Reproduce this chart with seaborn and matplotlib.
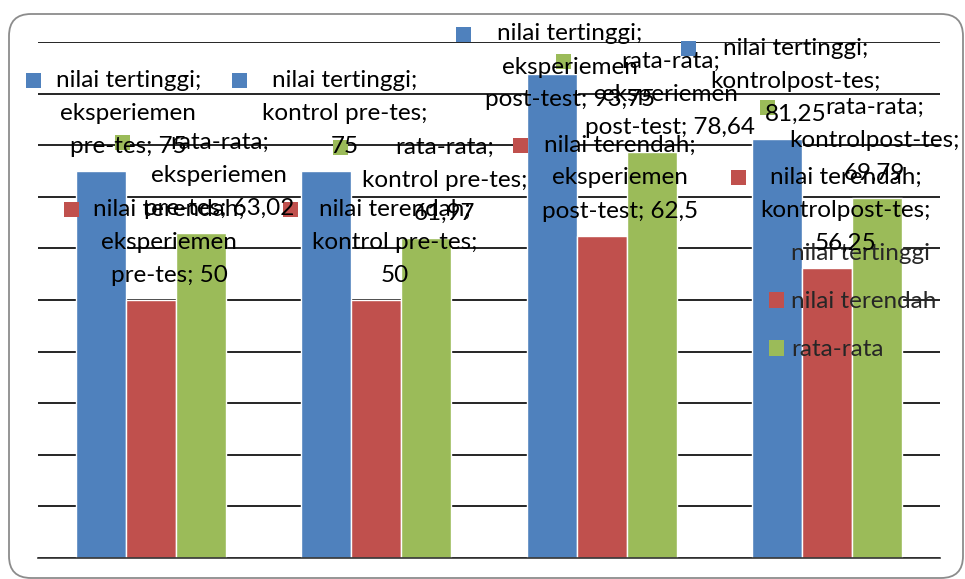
import textwrap

import matplotlib
import matplotlib.pyplot as plt
import pandas as pd
import seaborn as sns
from matplotlib.patches import FancyBboxPatch, Patch, Rectangle
from matplotlib.transforms import IdentityTransform

matplotlib.use("Agg")

categories      = ["eksperiemen pre-tes", "kontrol pre-tes", "eksperiemen post-test", "kontrolpost-tes"]
series          = ["nilai tertinggi", "nilai terendah", "rata-rata"]
nilai_tertinggi = [75, 75, 93.75, 81.25]
nilai_terendah  = [50, 50, 62.5, 56.25]
rata_rata       = [63.02, 61.97, 78.64, 69.79]
y_ticks         = [0, 10, 20, 30, 40, 50, 60, 70, 80, 90, 100]

COLORS = ["#4F81BD", "#C0504D", "#9BBB59"]
W, H = 965, 579
FS = 17.5        # label font size (pt)
LINE = 33        # px between label lines


def fmt(v):
    return f"{v:g}".replace(".", ",")


df = pd.DataFrame({
    "kategori": categories * 3,
    "seri":     [s for s in series for _ in categories],
    "nilai":    nilai_tertinggi + nilai_terendah + rata_rata,
})
values = [nilai_tertinggi, nilai_terendah, rata_rata]

sns.set_theme(style="white")
plt.rcParams["font.family"] = ["Lato", "DejaVu Sans"]

fig = plt.figure(figsize=(W / 100, H / 100), dpi=100)
ax = fig.add_axes([38 / W, 21 / H, 902 / W, 516 / H])

sns.barplot(data=df, x="kategori", y="nilai", hue="seri", order=categories,
            hue_order=series, palette=COLORS, saturation=1, width=0.667,
            gap=0, legend=False, ax=ax, zorder=2)

ax.set_xlim(-0.5, len(categories) - 0.5)
ax.set_ylim(0, 100)
ax.set_yticks(y_ticks)
ax.yaxis.grid(True, color="black", linewidth=1.2)
ax.set_axisbelow(True)
ax.set_xticklabels([])
ax.set_yticklabels([])
ax.tick_params(length=0)
ax.set_xlabel("")
ax.set_ylabel("")
for side in ["top", "left", "right"]:
    ax.spines[side].set_visible(False)
ax.spines["bottom"].set_color("#333333")
ax.spines["bottom"].set_linewidth(1.2)

renderer = fig.canvas.get_renderer()
ident = IdentityTransform()

# data labels (Excel style: series; category; value with legend key)
for s_idx, cont in enumerate(ax.containers):
    for c_idx, bar in enumerate(cont):
        val = values[s_idx][c_idx]
        cx = bar.get_x() + bar.get_width() / 2
        px, py = ax.transData.transform((cx, val))
        lines = [series[s_idx] + ";"] + textwrap.wrap(
            f"{categories[c_idx]}; {fmt(val)}", 16, break_on_hyphens=False)
        n = len(lines)

        texts = [fig.text(0, 0, ln, transform=ident, fontsize=FS, ha="center",
                          va="center", color="black", zorder=5) for ln in lines]
        half = max(t.get_window_extent(renderer).width for t in texts) / 2

        # keep label (with key) inside the chart area
        lx = px + 18.5
        if lx + half > W - 5:
            lx = W - 5 - half
        if lx - half - 29.5 < 26:
            lx = 26 + 29.5 + half
        top_y = py + 24.5 + (n - 1) * LINE
        if top_y > H - 34:
            top_y = H - 34
        for i, t in enumerate(texts):
            t.set_position((lx, top_y - i * LINE))

        kx = lx - half - 22
        fig.add_artist(Rectangle((kx - 7.5, top_y - 7.5), 15, 15, transform=ident,
                                 facecolor=COLORS[s_idx], edgecolor="none", zorder=5))

handles = [Patch(facecolor=c, edgecolor="none", label=s) for c, s in zip(COLORS, series)]
leg = ax.legend(handles=handles, loc="upper left", bbox_to_anchor=(769 / W, (H - 243) / H),
                bbox_transform=fig.transFigure, frameon=False, fontsize=FS,
                handlelength=0.62, handleheight=0.62, handletextpad=0.3,
                labelspacing=1.12, borderpad=0, borderaxespad=0)
leg.set_zorder(6)

fig.add_artist(FancyBboxPatch((9, 1), 954, H - 15, boxstyle="round,pad=0,rounding_size=22",
                              transform=ident, facecolor="none", edgecolor="#8c8c8c",
                              linewidth=1.3, zorder=0))

fig.savefig("out.png", dpi=100)
plt.close(fig)
